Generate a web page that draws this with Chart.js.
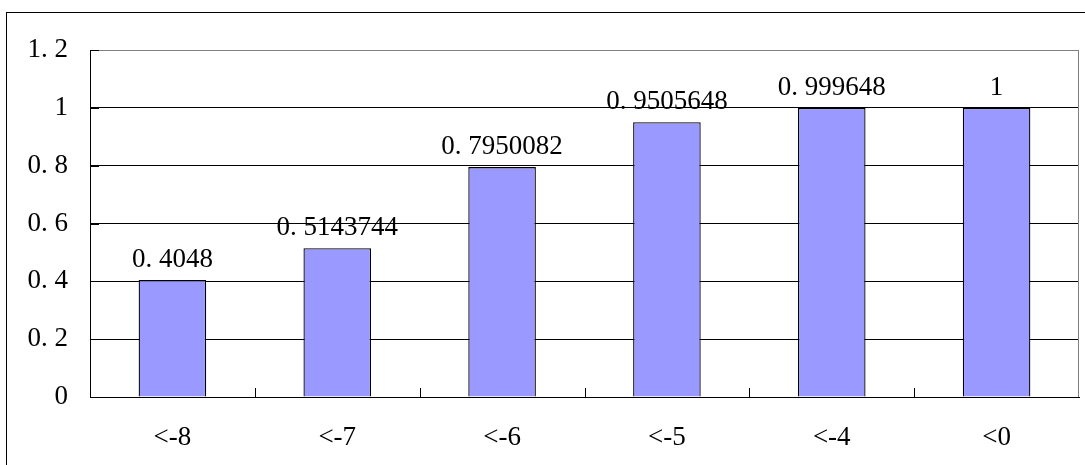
<!DOCTYPE html>
<html>
<head>
<meta charset="utf-8">
<script src="https://cdn.jsdelivr.net/npm/chart.js@4/dist/chart.umd.min.js"></script>
<style>
  html, body { margin: 0; padding: 0; background: #fff; }
  canvas { display: block; }
</style>
</head>
<body>
<canvas id="c" width="1085" height="465"></canvas>
<script>
// Cumulative share by threshold
const categories = ['<-8', '<-7', '<-6', '<-5', '<-4', '<0'];
const shares = [0.4048, 0.5143744, 0.7950082, 0.9505648, 0.999648, 1];
const yTicks = [0, 0.2, 0.4, 0.6, 0.8, 1, 1.2];

const FONT = { family: '"Liberation Serif", "DejaVu Serif", serif', size: 27 };
const fontStr = FONT.size + 'px ' + FONT.family;

// wide-period number style: "0.4048" -> "0. 4048"
const fmt = v => String(v).replace('.', '. ');

const framePlugin = {
  id: 'frame',
  beforeDraw(chart) {
    const ctx = chart.ctx;
    ctx.save();
    ctx.fillStyle = '#fff';
    ctx.fillRect(0, 0, chart.width, chart.height);
    // outer border
    ctx.strokeStyle = '#000';
    ctx.lineWidth = 1;
    ctx.strokeRect(6.5, 12.5, chart.width + 20, chart.height + 20);
    ctx.restore();
  },
  afterDraw(chart) {
    const ctx = chart.ctx;
    const a = chart.chartArea;
    const x = chart.scales.x;
    const y = chart.scales.y;
    ctx.save();
    // right edge of the plot
    ctx.strokeStyle = '#808080';
    ctx.lineWidth = 1;
    ctx.beginPath();
    ctx.moveTo(Math.round(a.right) - 0.5, a.top);
    ctx.lineTo(Math.round(a.right) - 0.5, a.bottom);
    ctx.stroke();
    // inside tick marks between categories
    ctx.strokeStyle = '#000';
    const n = categories.length;
    const step = (x.right - x.left) / n;
    ctx.beginPath();
    for (let i = 1; i < n; i++) {
      const px = Math.round(x.left + i * step) + 0.5;
      ctx.moveTo(px, a.bottom);
      ctx.lineTo(px, a.bottom - 9);
    }
    // inside tick marks on the value axis
    yTicks.forEach(v => {
      const py = Math.round(y.getPixelForValue(v)) + 0.5;
      ctx.moveTo(a.left, py);
      ctx.lineTo(a.left + 9, py);
    });
    ctx.stroke();
    ctx.restore();
  },
  afterDatasetsDraw(chart) {
    const ctx = chart.ctx;
    const meta = chart.getDatasetMeta(0);
    ctx.save();
    ctx.font = fontStr;
    ctx.fillStyle = '#000';
    ctx.textAlign = 'center';
    ctx.textBaseline = 'alphabetic';
    meta.data.forEach((bar, i) => {
      ctx.fillText(fmt(shares[i]), bar.x, bar.y - 13);
    });
    ctx.restore();
  }
};

new Chart(document.getElementById('c'), {
  type: 'bar',
  data: {
    labels: categories,
    datasets: [{
      data: shares,
      backgroundColor: '#9999FF',
      borderColor: '#000',
      borderWidth: 1.3,
      categoryPercentage: 1,
      barPercentage: 0.41
    }]
  },
  options: {
    responsive: false,
    animation: false,
    devicePixelRatio: 1,
    layout: { padding: { top: 50, right: 6, left: 0, bottom: 0 } },
    plugins: { legend: { display: false }, tooltip: { enabled: false } },
    scales: {
      x: {
        grid: { display: false, drawTicks: false },
        border: { display: true, color: '#000', width: 1 },
        ticks: { font: FONT, color: '#000', padding: 25, maxRotation: 0 },
        afterFit(s) { s.height = 68; }
      },
      y: {
        min: 0,
        max: 1.2,
        afterBuildTicks(s) { s.ticks = yTicks.map(v => ({ value: v })); },
        grid: {
          drawTicks: false,
          color: c => (c.tick && c.tick.value === 1.2 ? '#808080' : '#000'),
          lineWidth: 1
        },
        border: { display: true, color: '#000', width: 1 },
        ticks: {
          font: FONT,
          color: '#000',
          padding: 22,
          callback: v => fmt(Number(v.toFixed(1)))
        },
        afterFit(s) { s.width = 90; }
      }
    }
  },
  plugins: [framePlugin]
});
</script>
</body>
</html>
